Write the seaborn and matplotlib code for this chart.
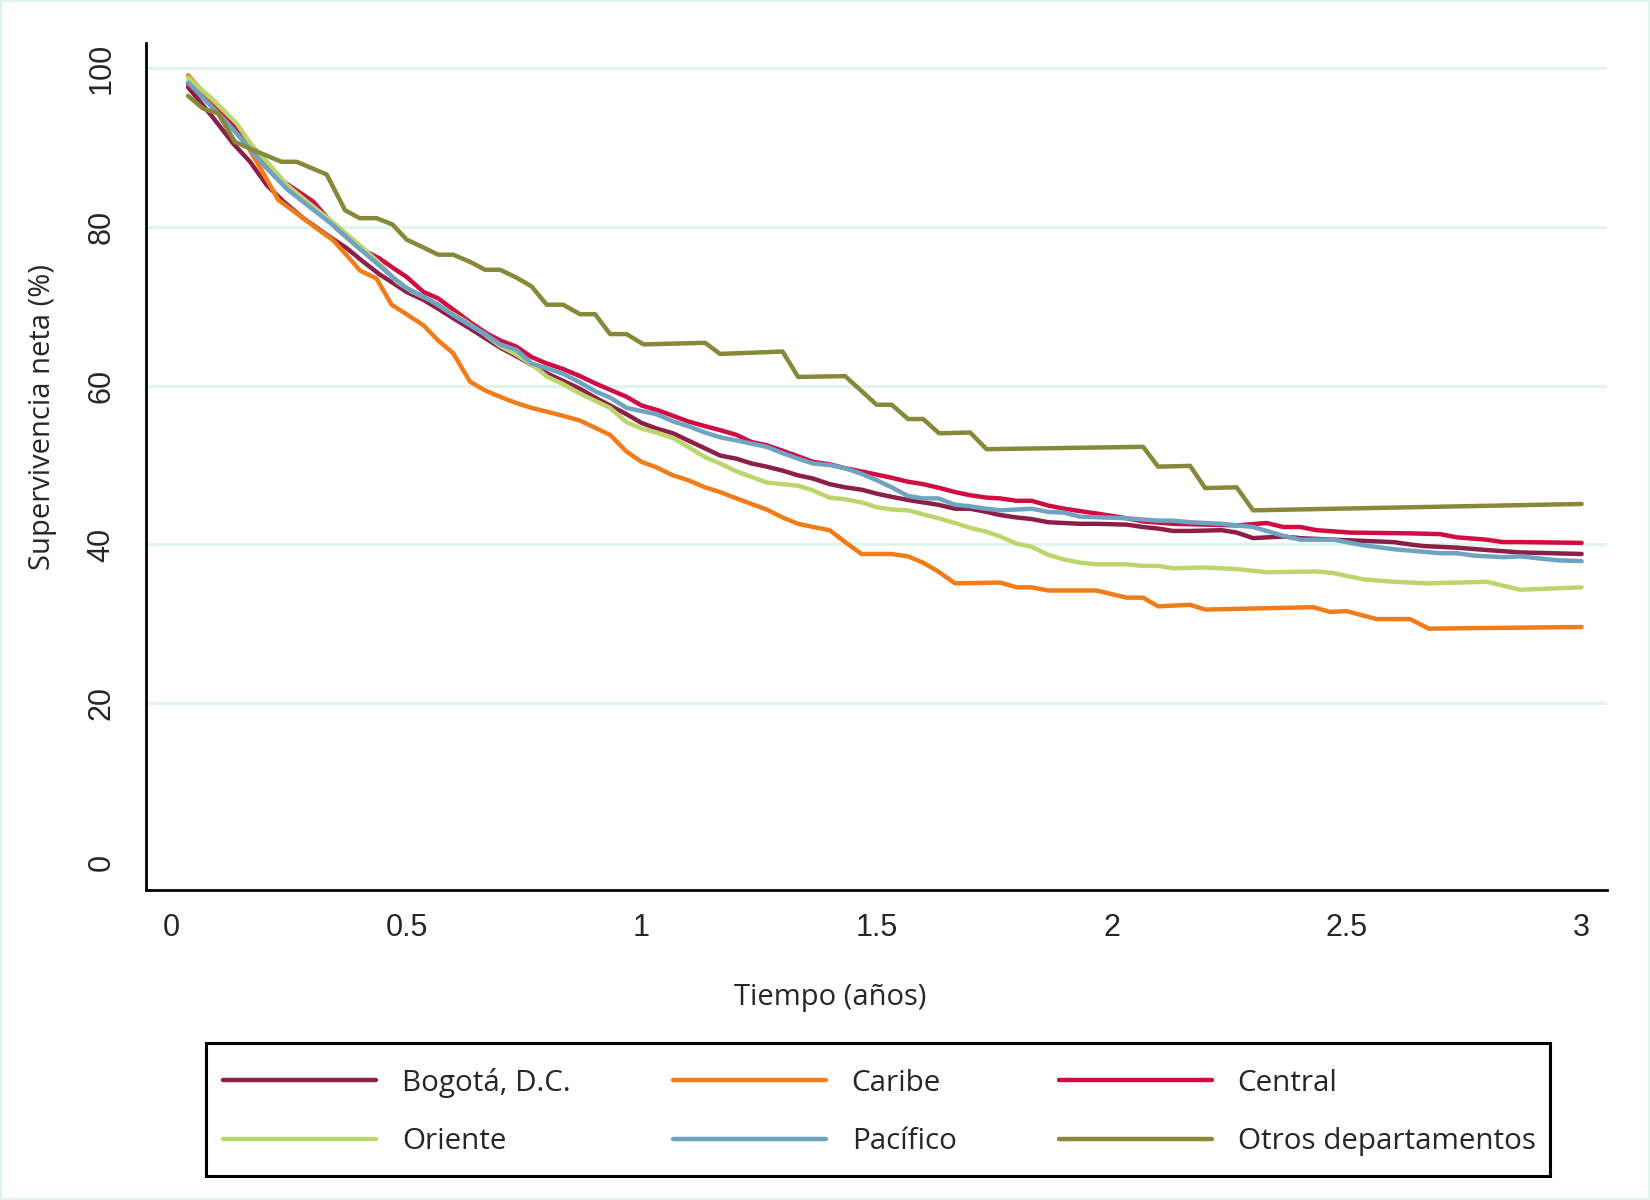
import numpy as np
import pandas as pd
import matplotlib
matplotlib.use("Agg")
import matplotlib.pyplot as plt
from matplotlib.patches import Rectangle
import seaborn as sns

# ---------------- data ----------------
regions = ["Bogotá, D.C.", "Caribe", "Central", "Oriente", "Pacífico", "Otros departamentos"]

bogota_t = [0.035, 0.089, 0.131, 0.167, 0.202, 0.238, 0.28, 0.33, 0.373, 0.408, 0.443, 0.472, 0.50,
            0.536, 0.567, 0.599, 0.635, 0.667, 0.699, 0.734, 0.77, 0.80, 0.833, 0.869, 0.901, 0.933,
            0.968, 1.0, 1.032, 1.067, 1.099, 1.135, 1.167, 1.202, 1.234, 1.266, 1.30, 1.333, 1.365,
            1.40, 1.433, 1.468, 1.50, 1.532, 1.567, 1.599, 1.631, 1.667, 1.699, 1.734, 1.763, 1.798,
            1.83, 1.865, 1.933, 1.968, 2.032, 2.067, 2.099, 2.131, 2.167, 2.234, 2.266, 2.301, 2.365,
            2.401, 2.472, 2.60, 2.635, 2.663, 2.734, 2.798, 2.869, 3.0]
bogota_v = [97.6, 93.7, 90.5, 88.2, 85.3, 83.2, 81.1, 79.0, 77.3, 75.6, 74.0, 72.9, 71.8,
            70.8, 69.7, 68.5, 67.2, 66.0, 64.8, 63.7, 62.5, 61.5, 60.6, 59.6, 58.5, 57.5,
            56.4, 55.3, 54.6, 54.0, 53.1, 52.1, 51.2, 50.8, 50.2, 49.8, 49.3, 48.7, 48.3,
            47.6, 47.2, 46.9, 46.4, 46.0, 45.6, 45.3, 45.0, 44.5, 44.5, 44.1, 43.7, 43.4,
            43.2, 42.8, 42.6, 42.6, 42.5, 42.2, 42.0, 41.7, 41.7, 41.8, 41.5, 40.8, 41.0,
            40.8, 40.6, 40.3, 40.0, 39.8, 39.6, 39.3, 39.0, 38.8]

caribe_t = [0.035, 0.10, 0.153, 0.19, 0.227, 0.273, 0.309, 0.344, 0.373, 0.401, 0.436, 0.468, 0.50,
            0.536, 0.567, 0.599, 0.635, 0.667, 0.699, 0.734, 0.766, 0.80, 0.833, 0.869, 0.901, 0.933,
            0.968, 1.0, 1.032, 1.067, 1.099, 1.135, 1.167, 1.202, 1.234, 1.266, 1.30, 1.333, 1.365,
            1.40, 1.433, 1.468, 1.532, 1.567, 1.599, 1.631, 1.667, 1.763, 1.798, 1.83, 1.865, 1.968,
            2.032, 2.067, 2.099, 2.167, 2.199, 2.429, 2.465, 2.50, 2.564, 2.635, 2.675, 3.0]
caribe_v = [99.1, 94.8, 91.0, 87.3, 83.4, 81.4, 79.8, 78.3, 76.4, 74.5, 73.5, 70.2, 69.0,
            67.6, 65.7, 64.1, 60.5, 59.4, 58.6, 57.8, 57.2, 56.7, 56.2, 55.6, 54.7, 53.8,
            51.7, 50.4, 49.7, 48.7, 48.1, 47.2, 46.6, 45.8, 45.1, 44.4, 43.4, 42.6, 42.2,
            41.8, 40.3, 38.8, 38.8, 38.5, 37.7, 36.6, 35.1, 35.2, 34.6, 34.6, 34.2, 34.2,
            33.3, 33.3, 32.2, 32.4, 31.8, 32.1, 31.5, 31.6, 30.6, 30.6, 29.4, 29.6]

central_t = [0.035, 0.103, 0.146, 0.188, 0.238, 0.301, 0.351, 0.401, 0.443, 0.472, 0.50, 0.536,
             0.567, 0.599, 0.635, 0.67, 0.699, 0.734, 0.766, 0.798, 0.833, 0.869, 0.901, 0.936,
             0.968, 1.0, 1.035, 1.067, 1.099, 1.135, 1.167, 1.202, 1.234, 1.266, 1.30, 1.333,
             1.365, 1.40, 1.433, 1.468, 1.50, 1.532, 1.567, 1.599, 1.635, 1.667, 1.699, 1.734,
             1.763, 1.798, 1.83, 1.865, 1.90, 1.933, 1.968, 2.032, 2.067, 2.131, 2.266, 2.33,
             2.365, 2.401, 2.436, 2.507, 2.635, 2.699, 2.734, 2.798, 2.833, 2.869, 3.0]
central_v = [98.0, 94.3, 92.0, 89.0, 85.7, 83.2, 79.8, 77.3, 76.0, 74.8, 73.7, 71.8,
             71.0, 69.6, 68.0, 66.6, 65.7, 64.9, 63.6, 62.8, 62.1, 61.2, 60.3, 59.4,
             58.6, 57.5, 56.9, 56.2, 55.5, 54.9, 54.4, 53.8, 52.9, 52.5, 51.8, 51.1,
             50.4, 50.1, 49.6, 49.2, 48.8, 48.4, 47.9, 47.6, 47.1, 46.6, 46.2, 45.9,
             45.8, 45.5, 45.5, 44.9, 44.5, 44.2, 43.9, 43.3, 42.9, 42.6, 42.4, 42.7,
             42.2, 42.2, 41.8, 41.5, 41.4, 41.3, 40.9, 40.6, 40.3, 40.3, 40.2]

oriente_t = [0.035, 0.085, 0.139, 0.17, 0.209, 0.245, 0.294, 0.351, 0.40, 0.443, 0.479, 0.513,
             0.55, 0.585, 0.62, 0.663, 0.699, 0.734, 0.77, 0.80, 0.833, 0.869, 0.901, 0.933,
             0.968, 1.0, 1.032, 1.067, 1.099, 1.135, 1.167, 1.202, 1.234, 1.266, 1.30, 1.333,
             1.365, 1.40, 1.433, 1.468, 1.50, 1.532, 1.567, 1.599, 1.631, 1.667, 1.699, 1.734,
             1.763, 1.798, 1.83, 1.865, 1.90, 1.933, 1.968, 2.032, 2.067, 2.099, 2.131, 2.20,
             2.266, 2.33, 2.436, 2.472, 2.536, 2.60, 2.67, 2.798, 2.869, 3.0]
oriente_v = [98.8, 96.2, 93.0, 90.3, 87.8, 85.3, 82.9, 80.2, 77.7, 75.4, 73.1, 71.8,
             70.8, 69.5, 68.3, 66.6, 65.0, 63.9, 62.5, 61.1, 60.2, 59.0, 58.1, 57.2,
             55.4, 54.6, 54.1, 53.4, 52.3, 51.0, 50.2, 49.2, 48.5, 47.8, 47.6, 47.4,
             46.8, 45.9, 45.7, 45.3, 44.7, 44.4, 44.3, 43.8, 43.3, 42.7, 42.1, 41.6,
             41.0, 40.1, 39.7, 38.7, 38.1, 37.7, 37.5, 37.5, 37.3, 37.3, 37.0, 37.1,
             36.9, 36.5, 36.6, 36.4, 35.6, 35.3, 35.1, 35.3, 34.3, 34.6]

pacifico_t = [0.035, 0.117, 0.16, 0.202, 0.245, 0.294, 0.344, 0.387, 0.429, 0.472, 0.50, 0.536,
              0.567, 0.599, 0.635, 0.67, 0.699, 0.734, 0.766, 0.798, 0.833, 0.869, 0.901, 0.933,
              0.968, 1.0, 1.032, 1.067, 1.099, 1.135, 1.167, 1.202, 1.234, 1.266, 1.30, 1.333,
              1.365, 1.40, 1.433, 1.468, 1.50, 1.532, 1.567, 1.599, 1.631, 1.667, 1.699, 1.734,
              1.763, 1.83, 1.865, 1.90, 1.933, 2.032, 2.099, 2.131, 2.167, 2.234, 2.301, 2.365,
              2.401, 2.472, 2.536, 2.60, 2.699, 2.734, 2.77, 2.833, 2.869, 2.95, 3.0]
pacifico_v = [98.2, 93.2, 90.3, 87.4, 84.8, 82.5, 80.2, 77.9, 75.8, 73.6, 72.3, 71.2,
              70.2, 68.9, 67.6, 66.4, 65.2, 64.5, 62.8, 62.2, 61.5, 60.4, 59.3, 58.5,
              57.2, 56.8, 56.4, 55.5, 54.9, 54.1, 53.5, 53.1, 52.7, 52.3, 51.5, 50.8,
              50.2, 50.0, 49.6, 48.9, 48.1, 47.2, 46.1, 45.8, 45.8, 45.0, 44.8, 44.5,
              44.3, 44.5, 44.1, 44.0, 43.5, 43.3, 43.0, 43.0, 42.8, 42.6, 42.2, 41.1,
              40.6, 40.6, 39.9, 39.4, 38.9, 38.9, 38.6, 38.4, 38.5, 38.0, 37.9]

otros_t = [0.035, 0.067, 0.099, 0.135, 0.181, 0.234, 0.266, 0.33, 0.369, 0.40, 0.436, 0.470, 0.50,
           0.536, 0.567, 0.599, 0.635, 0.667, 0.699, 0.734, 0.766, 0.798, 0.833, 0.869, 0.901,
           0.933, 0.968, 1.004, 1.135, 1.167, 1.30, 1.333, 1.433, 1.50, 1.532, 1.567, 1.599,
           1.633, 1.699, 1.734, 2.067, 2.099, 2.167, 2.199, 2.266, 2.301, 3.0]
otros_v = [96.5, 94.9, 94.3, 90.7, 89.5, 88.2, 88.2, 86.6, 82.1, 81.1, 81.1, 80.3, 78.4,
           77.4, 76.5, 76.5, 75.6, 74.6, 74.6, 73.6, 72.5, 70.2, 70.2, 69.0, 69.0,
           66.5, 66.5, 65.2, 65.4, 64.0, 64.3, 61.1, 61.2, 57.6, 57.6, 55.8, 55.8,
           54.0, 54.1, 52.0, 52.3, 49.8, 49.9, 47.1, 47.2, 44.3, 45.1]

x_ticks = [0, 0.5, 1, 1.5, 2, 2.5, 3]
x_ticklabels = ["0", "0.5", "1", "1.5", "2", "2.5", "3"]
y_ticks = [0, 20, 40, 60, 80, 100]
y_ticklabels = ["0", "20", "40", "60", "80", "100"]

colors = {
    "Bogotá, D.C.": "#8c1f47",
    "Caribe": "#f07d1a",
    "Central": "#d00c43",
    "Oriente": "#bdd56d",
    "Pacífico": "#6ea3c2",
    "Otros departamentos": "#878839",
}

series = {
    "Bogotá, D.C.": (bogota_t, bogota_v),
    "Caribe": (caribe_t, caribe_v),
    "Central": (central_t, central_v),
    "Oriente": (oriente_t, oriente_v),
    "Pacífico": (pacifico_t, pacifico_v),
    "Otros departamentos": (otros_t, otros_v),
}
frames = [pd.DataFrame({"t": t, "v": v, "region": name}) for name, (t, v) in series.items()]
df = pd.concat(frames, ignore_index=True)

# ---------------- style ----------------
sns.set_style("white")
TITLE_FONT = ["Open Sans", "DejaVu Sans"]
TICK_FONT = ["Liberation Sans", "DejaVu Sans"]
plt.rcParams["font.family"] = TITLE_FONT

W, H = 1650, 1200
LW = 3.2
fig = plt.figure(figsize=(W / 100, H / 100), dpi=100, facecolor="white")
ax = fig.add_axes([145.7 / W, 1 - 889.5 / H, (1607 - 145.7) / W, (889.5 - 42.7) / H])
ax.set_facecolor("white")

sns.lineplot(data=df, x="t", y="v", hue="region", hue_order=regions, palette=colors,
             estimator=None, linewidth=LW, ax=ax, legend=True)

ax.set_xlim(-0.0551, 3.054)
ax.set_ylim(-3.46, 103.2)

ax.set_xticks(x_ticks)
ax.set_xticklabels(x_ticklabels, fontfamily=TICK_FONT, fontsize=22)
ax.set_yticks(y_ticks)
ax.set_yticklabels(y_ticklabels, fontfamily=TICK_FONT, fontsize=22, rotation=90, va="center")

for s in ["top", "right"]:
    ax.spines[s].set_visible(False)
for s in ["left", "bottom"]:
    ax.spines[s].set_linewidth(2.0)
    ax.spines[s].set_color("black")
ax.tick_params(axis="both", direction="out", length=12, width=2.0, color="black")
ax.tick_params(axis="x", pad=5)
ax.tick_params(axis="y", pad=9)

ax.yaxis.grid(True, color="#e2f4ee", linewidth=2.2)
ax.xaxis.grid(False)
ax.set_axisbelow(True)
ygl = ax.get_ygridlines()
ygl[0].set_visible(False)

ax.set_xlabel("Tiempo (años)", fontsize=21, fontfamily=TITLE_FONT)
ax.set_ylabel("Supervivencia neta (%)", fontsize=21, fontfamily=TITLE_FONT)
ax.xaxis.set_label_coords(830 / W, 1 - 997 / H, transform=fig.transFigure)
ax.xaxis.label.set_verticalalignment("center")
ax.yaxis.set_label_coords(42.5 / W, 1 - 417 / H, transform=fig.transFigure)
ax.yaxis.label.set_verticalalignment("center")

# legend: rows Bogotá/Caribe/Central, Oriente/Pacífico/Otros
handles, labels = ax.get_legend_handles_labels()
hmap = dict(zip(labels, handles))
order = ["Bogotá, D.C.", "Oriente", "Caribe", "Pacífico", "Central", "Otros departamentos"]
ax.get_legend().remove()
for h in hmap.values():
    h.set_linewidth(LW)
leg = fig.legend([hmap[k] for k in order], order, ncol=3, loc="center left",
                 bbox_to_anchor=(223 / W, 1 - 1112 / H), bbox_transform=fig.transFigure,
                 frameon=False, prop={"family": TITLE_FONT, "size": 21.3},
                 handlelength=5.17, handletextpad=0.88, columnspacing=3.45,
                 borderpad=0, labelspacing=1.0, borderaxespad=0)

# legend box
fig.patches.append(Rectangle((206 / W, 1 - 1176 / H), (1550 - 206) / W, (1176 - 1043) / H,
                             transform=fig.transFigure, fill=False, edgecolor="black",
                             linewidth=2.2, zorder=3))

# outer light frame
fig.patches.append(Rectangle((0, 0), 1, 1, transform=fig.transFigure, fill=False,
                             edgecolor="#e2f4ee", linewidth=3, zorder=0))

fig.savefig("out.png", dpi=100, facecolor="white")
